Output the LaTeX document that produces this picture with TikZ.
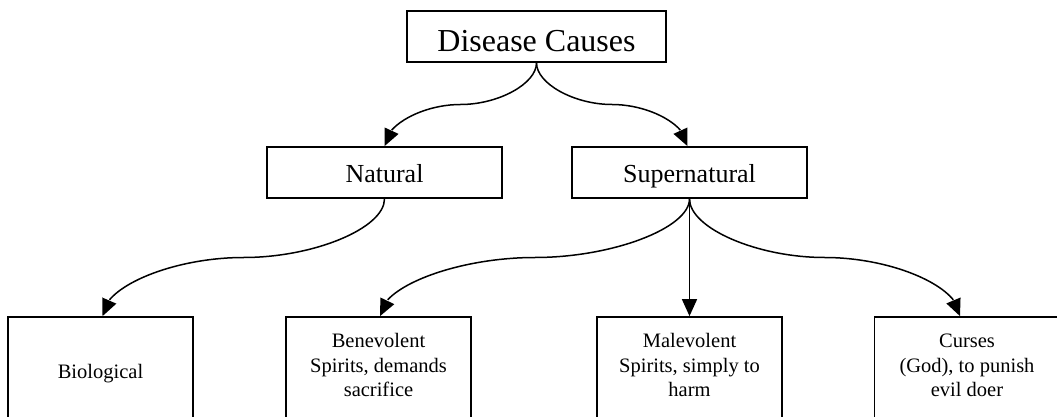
\documentclass[tikz,border=0pt]{standalone}
\usepackage{fontspec}
\setmainfont{Liberation Serif}
\usetikzlibrary{arrows.meta,bending,calc}

\tikzset{
  box/.style={draw, rectangle, line width=1.7pt, inner sep=0pt, align=center},
  headbox/.style={box, minimum width=259pt, minimum height=51pt,
    text height=31pt, text depth=0pt, font=\fontsize{32}{38}\selectfont},
  midbox/.style={box, minimum width=235pt, minimum height=51pt,
    text height=19pt, text depth=0pt, font=\fontsize{26}{31}\selectfont},
  leafbox/.style={box, minimum width=185pt, minimum height=106pt,
    font=\fontsize{20.5}{24.3}\selectfont},
  oneline/.style={text height=16pt, text depth=0pt},
  threelines/.style={text height=53pt, text depth=0pt},
  conn/.style={line width=1.5pt, -{Triangle[length=17pt,width=15pt,flex]}},
  % S-shaped connector: vertical at both ends, horizontal half way
  scurve/.style={to path={
    let \p1=(\tikztostart), \p2=(\tikztotarget) in
    .. controls (\x1,{\y1+(\y2-\y1)/4}) and ({\x1+(\x2-\x1)/4},{(\y1+\y2)/2})
    .. ({(\x1+\x2)/2},{(\y1+\y2)/2})
    .. controls ({\x1+3*(\x2-\x1)/4},{(\y1+\y2)/2}) and (\x2,{\y1+3*(\y2-\y1)/4})
    .. (\x2,\y2)}},
}

\begin{document}
\begin{tikzpicture}[x=1pt,y=1pt]
\useasboundingbox (0,0) rectangle (1057,-417);
\clip (0,0) rectangle (1057,-417);

% root
\node[headbox] (top) at (536.5,-36.5) {Disease Causes};

% two main kinds
\node[midbox] (nat) at (384.5,-172.5) {Natural};
\node[midbox] (sup) at (689.5,-172.5) {Supernatural};

% leaves (their lower edges run past the page)
\node[leafbox, oneline]    (bio) at (100.5,-370) {Biological};
\node[leafbox, threelines] (ben) at (378.5,-370) {Benevolent\\Spirits, demands\\sacrifice};
\node[leafbox, threelines] (mal) at (689.5,-370) {Malevolent\\Spirits, simply to\\harm};
\node[leafbox, threelines] (cur) at (967,-370) {Curses\\(God), to punish\\evil doer};

% connectors
\draw[conn] (top.south) to[scurve] (nat.north);
\draw[conn] (top.south) to[scurve] ([xshift=-2pt]sup.north);
\draw[conn] (nat.south) to[scurve] ([xshift=2pt]bio.north);
\draw[conn] (sup.south) to[scurve] ([xshift=1.5pt]ben.north);
\draw[conn] (sup.south) -- (mal.north);
\draw[conn] (sup.south) to[scurve] ([xshift=-7pt]cur.north);
\end{tikzpicture}
\end{document}
